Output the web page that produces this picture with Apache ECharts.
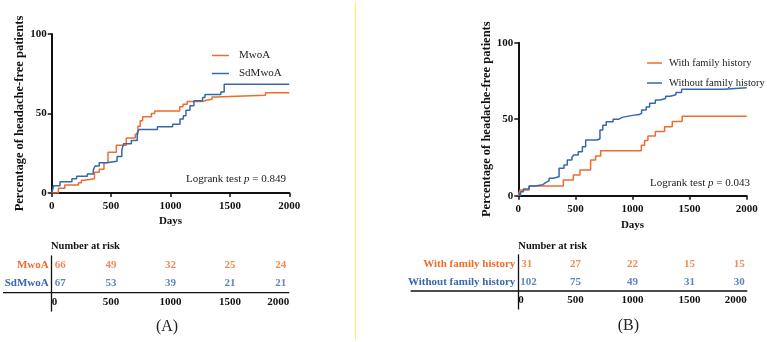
<!DOCTYPE html>
<html>
<head>
<meta charset="utf-8">
<script src="https://cdn.jsdelivr.net/npm/echarts/dist/echarts.min.js"></script>
<style>
html, body { margin: 0; padding: 0; background: #fff; }
#main { width: 767px; height: 342px; }
</style>
</head>
<body>
<div id="main"></div>
<script>
// panel A: Kaplan-Meier steps (days, % headache-free)
var mwoaDays = [0, 56, 110, 225, 250, 275, 360, 400, 440, 474, 544, 628, 704, 726, 745, 765, 839, 867, 1077, 1105, 1140, 1273, 1300, 1350, 1378, 1800, 2000];
var mwoaPct = [0, 3, 5, 6.5, 8, 9, 13, 15, 19, 25.6, 30, 34.6, 37, 42, 45.4, 48, 50, 51.5, 54.2, 55.8, 57.5, 58.3, 59, 60.4, 61.5, 63.1, 63.1];
var sdDays = [0, 8, 15, 70, 170, 210, 300, 350, 365, 400, 460, 550, 590, 605, 670, 720, 735, 890, 1018, 1080, 1108, 1130, 1164, 1197, 1270, 1290, 1424, 1452, 2000];
var sdPct = [0, 2, 4.5, 7, 9, 10.5, 12, 14.5, 17, 19, 20, 23, 27, 31, 33, 38, 40, 41.7, 43.3, 46.5, 48.6, 52, 54.8, 58, 60, 62, 63.5, 68.4, 68.4];

// panel B
var withDays = [0, 15, 94, 394, 482, 540, 633, 677, 721, 1077, 1106, 1135, 1200, 1281, 1348, 1435, 2000];
var withPct = [0, 3.7, 6.3, 10.3, 13.5, 16.8, 23.3, 26, 29.4, 33, 36, 39, 42, 45, 48.5, 52, 52];
var withoutDays = [0, 20, 45, 95, 150, 214, 240, 270, 305, 357, 400, 429, 470, 485, 525, 561, 590, 690, 715, 740, 770, 830, 880, 910, 1000, 1060, 1080, 1120, 1150, 1200, 1240, 1290, 1330, 1380, 1430, 1800, 2000];
var withoutPct = [0, 2.6, 4.4, 6.3, 7.2, 8.5, 9.8, 11.4, 12.4, 17.9, 20, 23.3, 25.1, 26.6, 28.8, 32, 36.4, 37.2, 43, 46, 48.4, 50, 51.2, 52.5, 53, 54, 56, 58, 60.5, 62.5, 63.5, 65, 66, 67.5, 69.5, 70.5, 70.5];

// number at risk tables
var riskDays = [0, 500, 1000, 1500, 2000];
var riskMwoa = [66, 49, 32, 25, 24];
var riskSd = [67, 53, 39, 21, 21];
var riskWith = [31, 27, 22, 15, 15];
var riskWithout = [102, 75, 49, 31, 30];

var ORANGE = '#EF6C2C';
var BLUE = '#3568AE';
var FONT = 'Liberation Serif';

function pairs(xs, ys) {
  return xs.map(function (x, i) { return [x, ys[i]]; });
}

function plain(v) { return String(v); }

function kmSeries(name, xs, ys, color, idx) {
  return {
    name: name,
    type: 'line',
    step: 'end',
    xAxisIndex: idx,
    yAxisIndex: idx,
    showSymbol: false,
    symbol: 'none',
    lineStyle: { color: color, width: 1.5 },
    itemStyle: { color: color },
    data: pairs(xs, ys)
  };
}

function riskSeries(row, counts, color, idx, leftOff, rightOff) {
  var last = counts.length - 1;
  return {
    type: 'scatter',
    xAxisIndex: idx,
    yAxisIndex: idx,
    symbolSize: 1,
    itemStyle: { color: 'rgba(0,0,0,0)' },
    silent: true,
    data: riskDays.map(function (d, i) {
      var lab = { align: 'center', offset: [0, 0] };
      if (i === 0) lab = { align: 'left', offset: [leftOff, 0] };
      if (i === last) lab = { align: 'right', offset: [rightOff, 0] };
      return { value: [d, row, counts[i]], label: lab };
    }),
    label: {
      show: true,
      position: 'inside',
      formatter: function (p) { return p.value[2]; },
      color: color,
      fontFamily: FONT,
      fontWeight: 'bold',
      fontSize: 11
    }
  };
}

function mainX(name, gap) {
  return {
    type: 'value', min: 0, max: 2000, interval: 500,
    name: name, nameLocation: 'middle', nameGap: gap,
    nameTextStyle: { fontFamily: FONT, fontWeight: 'bold', fontSize: 11, color: '#111' },
    axisLine: { show: true, lineStyle: { color: '#111', width: 2 } },
    axisTick: { show: true, length: 4, lineStyle: { color: '#111', width: 1.5 } },
    axisLabel: { margin: 8, formatter: plain, fontFamily: FONT, fontWeight: 'bold', fontSize: 11, color: '#111' },
    splitLine: { show: false }
  };
}

function mainY(gap) {
  return {
    type: 'value', min: 0, max: 100, interval: 50,
    name: 'Percentage of headache-free patients', nameLocation: 'middle', nameGap: gap,
    nameTextStyle: { fontFamily: FONT, fontWeight: 'bold', fontSize: 12.5, color: '#111' },
    axisLine: { show: true, lineStyle: { color: '#111', width: 2 } },
    axisTick: { show: true, length: 4, lineStyle: { color: '#111', width: 1.5 } },
    axisLabel: { margin: 5, fontFamily: FONT, fontWeight: 'bold', fontSize: 11, color: '#111' },
    splitLine: { show: false }
  };
}

function tableX() {
  return {
    type: 'value', min: 0, max: 2000, interval: 500,
    offset: -18.3,
    axisLine: { show: false }, axisTick: { show: false }, splitLine: { show: false },
    axisLabel: { margin: 4, formatter: plain, alignMinLabel: 'left', alignMaxLabel: 'right',
      fontFamily: FONT, fontWeight: 'bold', fontSize: 11, color: '#111' }
  };
}

function tableY(rows, colors) {
  return {
    type: 'category', data: rows,
    axisLine: { show: true, lineStyle: { color: '#111', width: 1.3 } },
    axisTick: { show: false }, splitLine: { show: false },
    axisLabel: {
      margin: 3, fontFamily: FONT, fontWeight: 'bold', fontSize: 11,
      color: function (v, i) { return colors[i]; }
    }
  };
}

var chart = echarts.init(document.getElementById('main'));
chart.setOption({
  backgroundColor: '#fff',
  animation: false,
  grid: [
    { left: 51.7, top: 34, width: 237.6, height: 159, outerBoundsMode: 'none' },
    { left: 518.3, top: 42.7, width: 228.4, height: 153, outerBoundsMode: 'none' },
    { left: 51.7, top: 256, width: 237.6, height: 55, outerBoundsMode: 'none' },
    { left: 518.3, top: 255, width: 228.4, height: 54, outerBoundsMode: 'none' }
  ],
  xAxis: [
    Object.assign(mainX('Days', 23), { gridIndex: 0 }),
    Object.assign(mainX('Days', 24), { gridIndex: 1 }),
    Object.assign(tableX(), { gridIndex: 2 }),
    Object.assign(tableX(), { gridIndex: 3, offset: -18 })
  ],
  yAxis: [
    Object.assign(mainY(24), { gridIndex: 0 }),
    Object.assign(mainY(22), { gridIndex: 1 }),
    Object.assign(tableY(['', 'SdMwoA', 'MwoA'], ['#111', BLUE, ORANGE]), { gridIndex: 2 }),
    Object.assign(tableY(['', 'Without family history', 'With family history'], ['#111', BLUE, ORANGE]), { gridIndex: 3 })
  ],
  legend: [
    {
      data: ['MwoA', 'SdMwoA'], orient: 'vertical', left: 207, top: 45,
      icon: 'rect', itemWidth: 17, itemHeight: 1.5, itemGap: 7,
      textStyle: { fontFamily: FONT, fontSize: 11, color: '#222', padding: [0, 0, 0, 5] }
    },
    {
      data: ['With family history', 'Without family history'], orient: 'vertical', left: 642, top: 52.5,
      icon: 'rect', itemWidth: 15, itemHeight: 1.5, itemGap: 9,
      textStyle: { fontFamily: FONT, fontSize: 10.5, color: '#222', padding: [0, 0, 0, 2] }
    }
  ],
  series: [
    kmSeries('MwoA', mwoaDays, mwoaPct, ORANGE, 0),
    kmSeries('SdMwoA', sdDays, sdPct, BLUE, 0),
    kmSeries('With family history', withDays, withPct, ORANGE, 1),
    kmSeries('Without family history', withoutDays, withoutPct, BLUE, 1),
    riskSeries('MwoA', riskMwoa, ORANGE, 2, 3, -3),
    riskSeries('SdMwoA', riskSd, BLUE, 2, 3, -3),
    riskSeries('With family history', riskWith, ORANGE, 3, 3, -2),
    riskSeries('Without family history', riskWithout, BLUE, 3, 2, -2)
  ],
  graphic: [
    // divider between panels
    { type: 'line', shape: { x1: 355.5, y1: 2, x2: 355.5, y2: 340 }, style: { stroke: '#FFF35A', lineWidth: 1 } },
    // horizontal rules of the risk tables
    { type: 'line', shape: { x1: 3, y1: 292.7, x2: 289.3, y2: 292.7 }, style: { stroke: '#111', lineWidth: 1.3 } },
    { type: 'line', shape: { x1: 410.7, y1: 291, x2: 747.3, y2: 291 }, style: { stroke: '#111', lineWidth: 1.3 } },
    {
      type: 'text', x: 186, y: 179,
      style: {
        text: '{n|Logrank test }{i|p}{n| = 0.849}', verticalAlign: 'middle',
        rich: { n: { fontFamily: FONT, fontSize: 11, fill: '#222' }, i: { fontFamily: FONT, fontSize: 11, fontStyle: 'italic', fill: '#222' } }
      }
    },
    {
      type: 'text', x: 650, y: 183,
      style: {
        text: '{n|Logrank test }{i|p}{n| = 0.043}', verticalAlign: 'middle',
        rich: { n: { fontFamily: FONT, fontSize: 11, fill: '#222' }, i: { fontFamily: FONT, fontSize: 11, fontStyle: 'italic', fill: '#222' } }
      }
    },
    { type: 'text', x: 51, y: 246.7, style: { text: 'Number at risk', verticalAlign: 'middle', fontFamily: FONT, fontWeight: 'bold', fontSize: 10.5, fill: '#111' } },
    { type: 'text', x: 518.3, y: 246.7, style: { text: 'Number at risk', verticalAlign: 'middle', fontFamily: FONT, fontWeight: 'bold', fontSize: 10.5, fill: '#111' } },
    { type: 'text', x: 167, y: 327, style: { text: '(A)', align: 'center', verticalAlign: 'middle', fontFamily: FONT, fontSize: 16, fill: '#222' } },
    { type: 'text', x: 628.3, y: 326, style: { text: '(B)', align: 'center', verticalAlign: 'middle', fontFamily: FONT, fontSize: 16, fill: '#222' } }
  ]
});
</script>
</body>
</html>
